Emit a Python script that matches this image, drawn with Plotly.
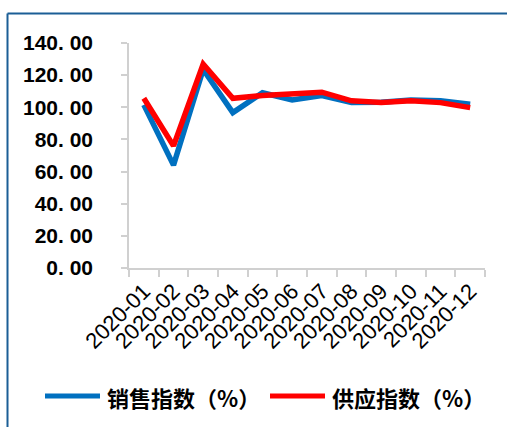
import plotly.graph_objects as go

months = ["2020-01", "2020-02", "2020-03", "2020-04", "2020-05", "2020-06",
          "2020-07", "2020-08", "2020-09", "2020-10", "2020-11", "2020-12"]
sales_index = [101.5, 64.0, 123.5, 96.7, 109.0, 104.6, 107.3, 102.9, 103.1, 104.6, 104.0, 101.9]
supply_index = [105.6, 76.0, 126.9, 105.6, 107.3, 108.3, 109.4, 104.0, 102.9, 104.0, 102.9, 99.8]
y_ticks = [0, 20, 40, 60, 80, 100, 120, 140]
y_tick_text = ["0. 00", "20. 00", "40. 00", "60. 00", "80. 00", "100. 00", "120. 00", "140. 00"]
series_names = ["销售指数（%）", "供应指数（%）"]
series_colors = ["#0070C0", "#FF0000"]

W, H = 507, 427
L, R, T, B = 129, 22, 43, 159
pw, ph = W - L - R, H - T - B

def px(x):
    return (x - L) / pw

def py(y):
    return (H - B - y) / ph

fig = go.Figure()
for name, vals, color in zip(series_names, [sales_index, supply_index], series_colors):
    fig.add_trace(go.Scatter(x=months, y=vals, mode="lines", name=name,
                             line=dict(color=color, width=5.5), showlegend=False))

# outer frame (top and left edges visible)
border = "#1B5E96"
fig.add_shape(type="line", xref="paper", yref="paper",
              x0=px(7.5), x1=px(520), y0=py(13.5), y1=py(13.5),
              line=dict(color=border, width=2))
fig.add_shape(type="line", xref="paper", yref="paper",
              x0=px(7.5), x1=px(7.5), y0=py(13.5), y1=py(440),
              line=dict(color=border, width=2))

# legend drawn as line swatches plus labels
legend_x = [45, 270]
legend_y = 396
for lx, name, color in zip(legend_x, series_names, series_colors):
    fig.add_shape(type="line", xref="paper", yref="paper",
                  x0=px(lx), x1=px(lx + 55), y0=py(legend_y), y1=py(legend_y),
                  line=dict(color=color, width=5))
    fig.add_annotation(xref="paper", yref="paper", x=px(lx + 60), y=py(legend_y + 1),
                       text=name, showarrow=False, xanchor="left", yanchor="middle",
                       font=dict(family="Noto Sans CJK SC", size=22, color="#000000", weight="bold"))

fig.update_layout(
    width=W, height=H,
    margin=dict(l=L, r=R, t=T, b=B),
    paper_bgcolor="white", plot_bgcolor="white",
    showlegend=False,
    xaxis=dict(type="category", tickson="boundaries", showgrid=False, automargin=False,
               showline=True, linecolor="#D0D0D0", linewidth=1.5,
               ticks="outside", ticklen=7, tickcolor="#D0D0D0", tickwidth=1.5,
               tickangle=-45, tickfont=dict(family="Liberation Sans, Arial, sans-serif", size=22, color="#000000"),
               range=[-0.5, 11.5], fixedrange=True),
    yaxis=dict(range=[0, 140], tickvals=y_ticks, ticktext=y_tick_text, showgrid=False, automargin=False,
               showline=True, linecolor="#D0D0D0", linewidth=1.5,
               ticks="outside", ticklen=6, tickcolor="#D0D0D0", tickwidth=1.5,
               tickfont=dict(family="Liberation Sans, Arial, sans-serif", size=21, color="#000000", weight="bold"),
               ticklabelstandoff=24, zeroline=False, fixedrange=True),
)

fig.write_html("out.html")
